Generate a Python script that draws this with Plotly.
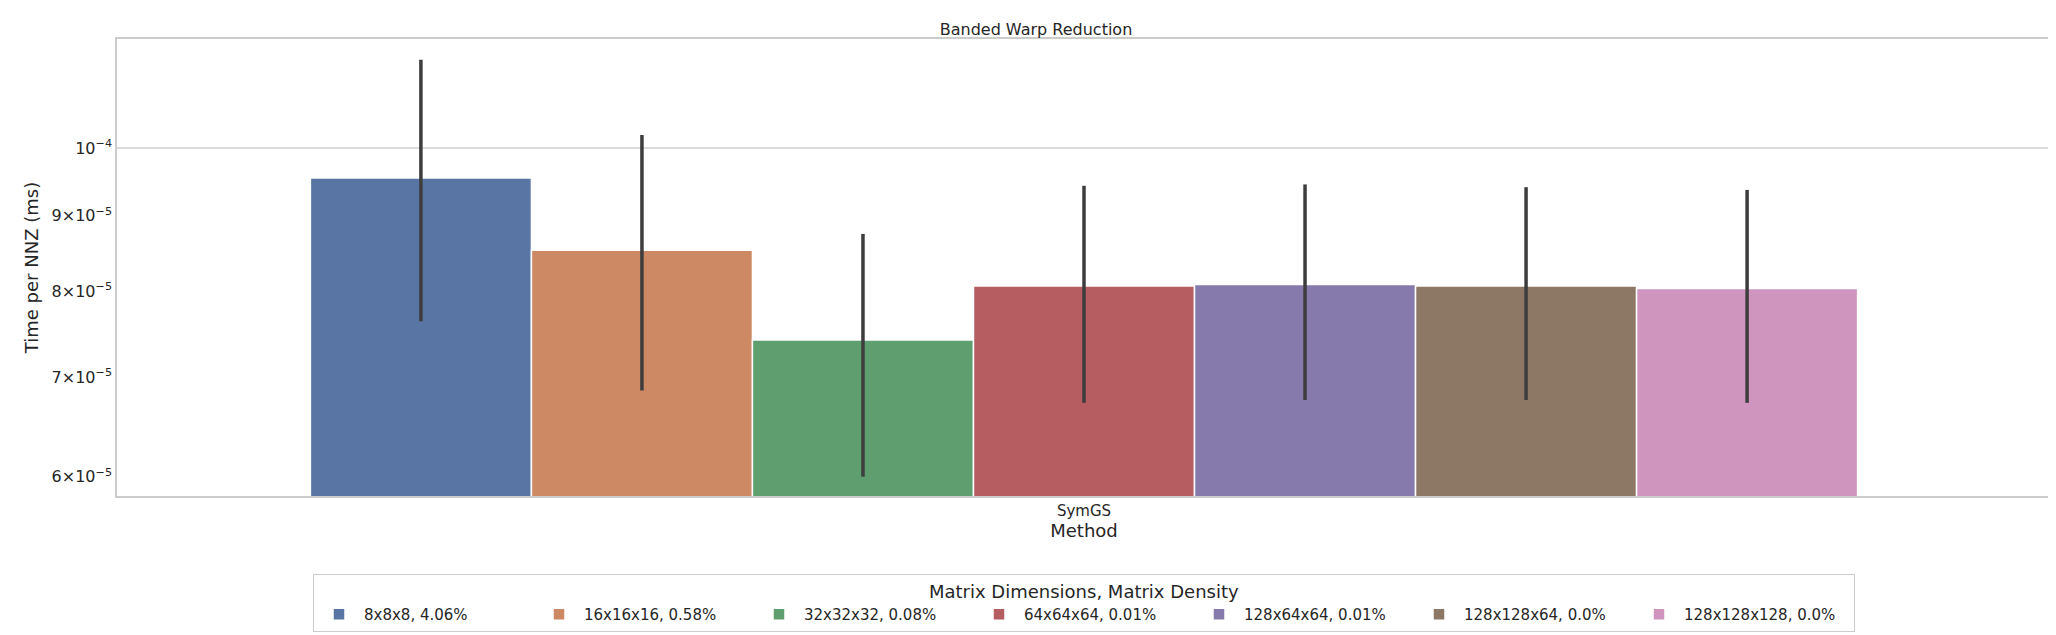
import plotly.graph_objects as go

labels = ["8x8x8, 4.06%", "16x16x16, 0.58%", "32x32x32, 0.08%", "64x64x64, 0.01%",
          "128x64x64, 0.01%", "128x128x64, 0.0%", "128x128x128, 0.0%"]
means = [9.545e-5, 8.53e-5, 7.42e-5, 8.07e-5, 8.09e-5, 8.07e-5, 8.04e-5]
upper = [1.147e-4, 1.0205e-4, 8.75e-5, 9.43e-5, 9.45e-5, 9.41e-5, 9.37e-5]
lower = [7.64e-5, 6.86e-5, 6.0e-5, 6.73e-5, 6.76e-5, 6.76e-5, 6.73e-5]
colors = ["#5875a4", "#cc8963", "#5f9e6e", "#b55d60", "#857aab", "#8d7866", "#d095bf"]

y_lo, y_hi = -4.2349, -3.9264

fig = go.Figure()
for lab, m, u, l, c in zip(labels, means, upper, lower, colors):
    fig.add_trace(go.Bar(
        x=["SymGS"], y=[m], name=lab,
        marker=dict(color=c, line=dict(color="white", width=1.5)),
        error_y=dict(type="data", symmetric=False, array=[u - m], arrayminus=[m - l],
                     color="#3d3d3d", thickness=3.5, width=0),
    ))

tv = [6e-5, 7e-5, 8e-5, 9e-5, 1e-4]
tt = ["6×10<sup>−5</sup>", "7×10<sup>−5</sup>", "8×10<sup>−5</sup>", "9×10<sup>−5</sup>", "10<sup>−4</sup>"]

# major grid line at 1e-4 only, like seaborn whitegrid
gy = (-4 - y_lo) / (y_hi - y_lo)
fig.add_shape(type="line", xref="paper", x0=0, x1=1, yref="y domain", y0=gy, y1=gy,
              line=dict(color="#d0d0d0", width=1.5), layer="below")

fig.update_layout(
    width=2056, height=635,
    margin=dict(l=109, r=11, t=31, b=142),
    plot_bgcolor="white", paper_bgcolor="white",
    font=dict(family="DejaVu Sans", size=15, color="#262626"),
    title=dict(text="Banded Warp Reduction", x=0.5, xanchor="center", y=0.975,
               font=dict(size=16)),
    barmode="group", bargap=0.2, bargroupgap=0,
    xaxis=dict(title=dict(text="Method", standoff=4), showline=True, mirror=True,
               linecolor="#cccccc", linewidth=1.5, showgrid=False, tickfont=dict(size=15)),
    yaxis=dict(type="log", range=[y_lo, y_hi], title=dict(text="Time per NNZ (ms)", standoff=8),
               tickvals=tv, ticktext=tt, showgrid=False, showline=True, mirror=True,
               linecolor="#cccccc", linewidth=1.5, zeroline=False, tickfont=dict(size=16)),
    legend=dict(orientation="h", x=0.5, xanchor="center", y=-0.17, yanchor="top",
                title=dict(text="Matrix Dimensions, Matrix Density", side="top center"),
                bordercolor="#cccccc", borderwidth=1, font=dict(size=15),
                itemwidth=40, entrywidth=165),
)

fig.write_html("out.html")
